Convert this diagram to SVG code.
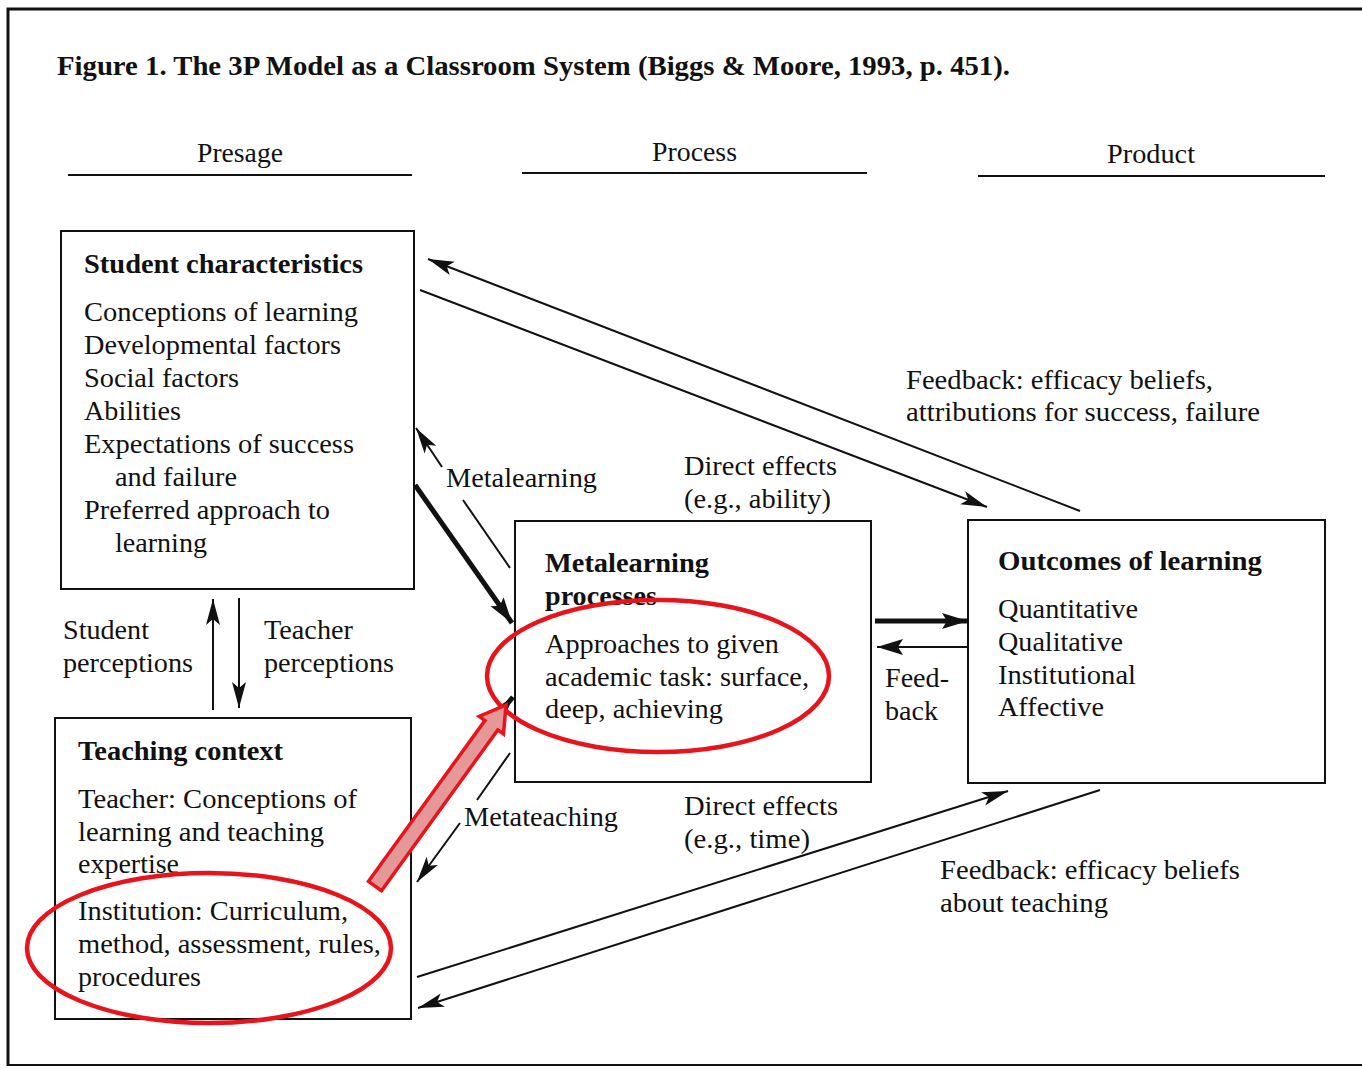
<svg xmlns="http://www.w3.org/2000/svg" width="1362" height="1068" viewBox="0 0 1362 1068">
<style>
text{font-family:"Liberation Serif","Times New Roman",serif;font-size:27px;fill:#111}
.b{font-weight:bold}
.box{fill:#fff;stroke:#111;stroke-width:2}
.ln{stroke:#111;stroke-width:2;fill:none}
.thk{stroke:#111;stroke-width:5;fill:none}
.red{fill:none;stroke:#e8141c;stroke-width:4.5}
</style>
<defs>
<marker id="ah" markerUnits="userSpaceOnUse" markerWidth="30" markerHeight="20" refX="26" refY="8" orient="auto" viewBox="0 0 30 16">
<path d="M0,1 L26,8 L0,15 L6,8 Z" fill="#111"/>
</marker>
<marker id="ahb" markerUnits="userSpaceOnUse" markerWidth="30" markerHeight="20" refX="26" refY="8" orient="auto" viewBox="0 0 30 16">
<path d="M0,0 L26,8 L0,16 L5,8 Z" fill="#111"/>
</marker>
</defs>
<rect x="0" y="0" width="1362" height="1068" fill="#fff"/>
<path d="M8,1066 L8,9 L1362,9" fill="none" stroke="#111" stroke-width="3"/>
<line x1="8" y1="1065" x2="1362" y2="1065" stroke="#111" stroke-width="2"/>

<text class="b" x="57" y="75" font-size="26" textLength="953" lengthAdjust="spacingAndGlyphs">Figure 1. The 3P Model as a Classroom System (Biggs &amp; Moore, 1993, p. 451).</text>

<g id="headers">
<text x="197" y="162" textLength="86" lengthAdjust="spacingAndGlyphs">Presage</text>
<line x1="68" y1="175" x2="412" y2="175" class="ln"/>
<text x="652" y="161" textLength="85" lengthAdjust="spacingAndGlyphs">Process</text>
<line x1="522" y1="173" x2="867" y2="173" class="ln"/>
<text x="1107" y="163" textLength="88" lengthAdjust="spacingAndGlyphs">Product</text>
<line x1="978" y1="176" x2="1325" y2="176" class="ln"/>
</g>

<g id="student">
<rect class="box" x="61" y="231" width="353" height="358"/>
<text class="b" x="84" y="273" textLength="279" lengthAdjust="spacingAndGlyphs">Student characteristics</text>
<text x="84" y="321" textLength="274" lengthAdjust="spacingAndGlyphs">Conceptions of learning</text>
<text x="84" y="354" textLength="257" lengthAdjust="spacingAndGlyphs">Developmental factors</text>
<text x="84" y="387" textLength="155" lengthAdjust="spacingAndGlyphs">Social factors</text>
<text x="84" y="420" textLength="97" lengthAdjust="spacingAndGlyphs">Abilities</text>
<text x="84" y="453" textLength="270" lengthAdjust="spacingAndGlyphs">Expectations of success</text>
<text x="115" y="486" textLength="122" lengthAdjust="spacingAndGlyphs">and failure</text>
<text x="84" y="519" textLength="246" lengthAdjust="spacingAndGlyphs">Preferred approach to</text>
<text x="115" y="552" textLength="92" lengthAdjust="spacingAndGlyphs">learning</text>
</g>

<g id="teaching">
<rect class="box" x="55" y="718" width="356" height="301"/>
<text class="b" x="78" y="760" textLength="205" lengthAdjust="spacingAndGlyphs">Teaching context</text>
<text x="78" y="808" textLength="279" lengthAdjust="spacingAndGlyphs">Teacher: Conceptions of</text>
<text x="78" y="841" textLength="246" lengthAdjust="spacingAndGlyphs">learning and teaching</text>
<text x="78" y="873" textLength="101" lengthAdjust="spacingAndGlyphs">expertise</text>
<text x="78" y="920" textLength="270" lengthAdjust="spacingAndGlyphs">Institution: Curriculum,</text>
<text x="78" y="953" textLength="303" lengthAdjust="spacingAndGlyphs">method, assessment, rules,</text>
<text x="78" y="986" textLength="123" lengthAdjust="spacingAndGlyphs">procedures</text>
</g>

<g id="metalearning">
<rect class="box" x="515" y="521" width="356" height="261"/>
<text class="b" x="545" y="572" textLength="164" lengthAdjust="spacingAndGlyphs">Metalearning</text>
<text class="b" x="545" y="605" textLength="112" lengthAdjust="spacingAndGlyphs">processes</text>
<text x="545" y="653" textLength="234" lengthAdjust="spacingAndGlyphs">Approaches to given</text>
<text x="545" y="686" textLength="264" lengthAdjust="spacingAndGlyphs">academic task: surface,</text>
<text x="545" y="718" textLength="178" lengthAdjust="spacingAndGlyphs">deep, achieving</text>
</g>

<g id="outcomes">
<rect class="box" x="968" y="520" width="357" height="263"/>
<text class="b" x="998" y="570" textLength="264" lengthAdjust="spacingAndGlyphs">Outcomes of learning</text>
<text x="998" y="618" textLength="140" lengthAdjust="spacingAndGlyphs">Quantitative</text>
<text x="998" y="651" textLength="125" lengthAdjust="spacingAndGlyphs">Qualitative</text>
<text x="998" y="684" textLength="138" lengthAdjust="spacingAndGlyphs">Institutional</text>
<text x="998" y="716" textLength="106" lengthAdjust="spacingAndGlyphs">Affective</text>
</g>

<g id="labels">
<text x="63" y="639" textLength="86" lengthAdjust="spacingAndGlyphs">Student</text>
<text x="63" y="672" textLength="130" lengthAdjust="spacingAndGlyphs">perceptions</text>
<text x="264" y="639" textLength="89" lengthAdjust="spacingAndGlyphs">Teacher</text>
<text x="264" y="672" textLength="130" lengthAdjust="spacingAndGlyphs">perceptions</text>
<text x="446" y="487" textLength="151" lengthAdjust="spacingAndGlyphs">Metalearning</text>
<text x="684" y="475" textLength="153" lengthAdjust="spacingAndGlyphs">Direct effects</text>
<text x="684" y="508" textLength="147" lengthAdjust="spacingAndGlyphs">(e.g., ability)</text>
<text x="906" y="389" textLength="307" lengthAdjust="spacingAndGlyphs">Feedback: efficacy beliefs,</text>
<text x="906" y="421" textLength="354" lengthAdjust="spacingAndGlyphs">attributions for success, failure</text>
<text x="885" y="687" textLength="64" lengthAdjust="spacingAndGlyphs">Feed-</text>
<text x="885" y="720" textLength="53" lengthAdjust="spacingAndGlyphs">back</text>
<text x="464" y="826" textLength="154" lengthAdjust="spacingAndGlyphs">Metateaching</text>
<text x="684" y="815" textLength="154" lengthAdjust="spacingAndGlyphs">Direct effects</text>
<text x="684" y="848" textLength="126" lengthAdjust="spacingAndGlyphs">(e.g., time)</text>
<text x="940" y="879" textLength="300" lengthAdjust="spacingAndGlyphs">Feedback: efficacy beliefs</text>
<text x="940" y="912" textLength="168" lengthAdjust="spacingAndGlyphs">about teaching</text>
</g>

<g id="connectors">
<line class="ln" x1="1080" y1="511" x2="428" y2="259" marker-end="url(#ah)"/>
<line class="ln" x1="420" y1="290" x2="987" y2="507" marker-end="url(#ah)"/>
<line class="ln" x1="442" y1="467" x2="416" y2="428" marker-end="url(#ah)"/>
<line class="ln" x1="463" y1="500" x2="510" y2="568"/>
<line class="thk" x1="415" y1="485" x2="512" y2="623" marker-end="url(#ahb)"/>
<line class="thk" x1="875" y1="621" x2="968" y2="621" marker-end="url(#ahb)"/>
<line class="ln" x1="968" y1="647" x2="877" y2="647" marker-end="url(#ahb)"/>
<line class="ln" x1="510" y1="753" x2="477" y2="800"/>
<line class="ln" x1="460" y1="823" x2="417" y2="882" marker-end="url(#ah)"/>
<line class="thk" x1="492" y1="722" x2="513" y2="697" marker-end="url(#ahb)"/>
<line class="ln" x1="417" y1="977" x2="1008" y2="791" marker-end="url(#ah)"/>
<line class="ln" x1="1100" y1="790" x2="418" y2="1008" marker-end="url(#ah)"/>
<line class="ln" x1="213" y1="710" x2="213" y2="599" marker-end="url(#ah)"/>
<line class="ln" x1="239" y1="598" x2="239" y2="708" marker-end="url(#ah)"/>
</g>

<g id="highlights">
<ellipse class="red" cx="658" cy="676" rx="171" ry="76"/>
<ellipse class="red" cx="209" cy="948" rx="182" ry="75"/>
<polygon points="381.5,890.7 497.8,729.9 503.5,734 506,705 479.2,716.5 484.9,720.6 368.5,881.3" fill="#e49898" stroke="#e8141c" stroke-width="3.5" stroke-linejoin="miter"/>
</g>
</svg>
